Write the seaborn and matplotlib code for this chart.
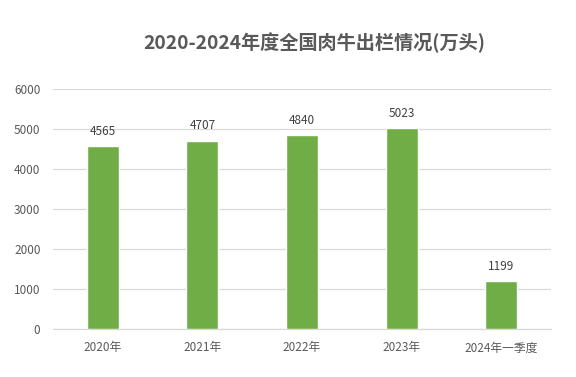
import matplotlib
matplotlib.use("Agg")
import matplotlib.pyplot as plt
import seaborn as sns
import pandas as pd

categories = ["2020年", "2021年", "2022年", "2023年", "2024年一季度"]
values = [4565, 4707, 4840, 5023, 1199]
yticks = [0, 1000, 2000, 3000, 4000, 5000, 6000]
title = "2020-2024年度全国肉牛出栏情况(万头)"

sns.set_theme(style="white")
plt.rcParams['font.family'] = ['Noto Sans CJK SC', 'DejaVu Sans']

df = pd.DataFrame({"year": categories, "value": values})

fig = plt.figure(figsize=(5.76, 3.77), dpi=100)
ax = fig.add_axes([53/576, 1 - 329/377, (551 - 53)/576, (329 - 89)/377])

sns.barplot(data=df, x="year", y="value", color="#70AD47", width=0.32,
            saturation=1, ax=ax, zorder=3)

ax.set_ylim(0, 6000)
ax.set_xlim(-0.5, len(categories) - 0.5)
ax.set_yticks(yticks)
ax.set_yticklabels([str(t) for t in yticks])
ax.yaxis.grid(True, color="#D9D9D9", linewidth=0.9, zorder=0)
ax.set_axisbelow(True)
for s in ["top", "right", "left"]:
    ax.spines[s].set_visible(False)
ax.spines["bottom"].set_color("#D9D9D9")
ax.spines["bottom"].set_linewidth(0.9)
ax.tick_params(axis="both", length=0, colors="#595959", labelsize=8.5)
ax.tick_params(axis="x", pad=9)
ax.tick_params(axis="y", pad=9)
ax.set_xlabel("")
ax.set_ylabel("")

for c in ax.containers:
    ax.bar_label(c, labels=[str(v) for v in values], padding=6,
                 fontsize=8.5, color="#404040")

fig.text(0.545, 1 - 43/377, title, ha="center", va="center",
         fontsize=13.8, fontweight="bold", color="#595959")

fig.savefig("out.png", dpi=100)
